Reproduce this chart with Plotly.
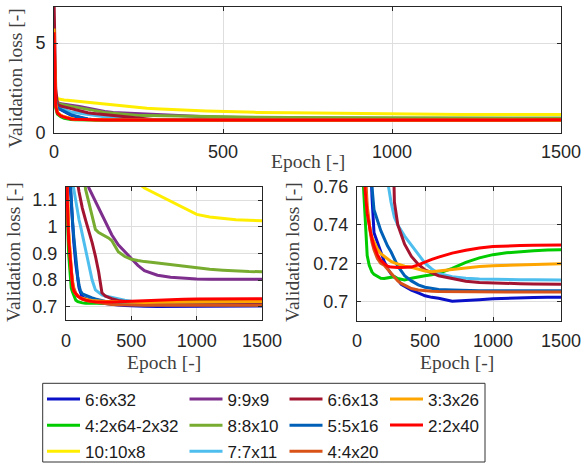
import plotly.graph_objects as go

# ---------------- data ----------------
epochs = [0, 5, 10, 20, 30, 40, 50, 60, 75, 90, 100, 110, 125, 150, 175, 200, 225, 250,
          275, 300, 325, 350, 400, 450, 500, 550, 600, 700, 800, 900, 1000, 1100, 1200,
          1300, 1400, 1500]

loss_6_6x32 = [4.5, 1.8, 1.4, 1.3, 1.17, 1.08, 1.0, 0.94, 0.86, 0.80, 0.77, 0.755, 0.736, 0.731,
               0.7255, 0.721, 0.7172, 0.7145, 0.7128, 0.7115, 0.709, 0.708, 0.706, 0.7045, 0.703,
               0.7022, 0.7017, 0.7002, 0.7005, 0.701, 0.7015, 0.7018, 0.702, 0.7021, 0.7022, 0.7022]
loss_4_2x64_2x32 = [4.0, 1.4, 1.05, 0.9, 0.82, 0.77, 0.755, 0.74, 0.724, 0.719, 0.717, 0.7155, 0.7142,
                    0.713, 0.7122, 0.7121, 0.7125, 0.713, 0.713, 0.712, 0.7115, 0.7113, 0.7122, 0.713,
                    0.7135, 0.714, 0.7148, 0.7173, 0.7205, 0.7228, 0.7245, 0.7255, 0.7262, 0.7266,
                    0.7269, 0.727]
loss_10_10x8 = [4.0, 2.2, 1.9, 1.85, 1.83, 1.82, 1.80, 1.79, 1.78, 1.75, 1.72, 1.69, 1.65, 1.60, 1.55,
                1.50, 1.46, 1.42, 1.38, 1.35, 1.32, 1.30, 1.26, 1.22, 1.19, 1.165, 1.145, 1.12, 1.098,
                1.07, 1.046, 1.036, 1.03, 1.026, 1.024, 1.022]
loss_9_9x9 = [3.5, 2.0, 1.7, 1.62, 1.60, 1.58, 1.55, 1.52, 1.48, 1.42, 1.38, 1.34, 1.28, 1.20, 1.145,
              1.12, 1.095, 1.07, 1.045, 1.02, 0.995, 0.97, 0.932, 0.905, 0.88, 0.855, 0.835, 0.818,
              0.81, 0.806, 0.804, 0.803, 0.803, 0.8025, 0.8025, 0.8025]
loss_8_8x10 = [3.8, 2.0, 1.65, 1.58, 1.55, 1.52, 1.49, 1.46, 1.42, 1.37, 1.33, 1.29, 1.23, 1.14, 1.09,
               1.04, 0.99, 0.978, 0.972, 0.965, 0.958, 0.948, 0.906, 0.888, 0.878, 0.873, 0.869,
               0.864, 0.858, 0.851, 0.845, 0.840, 0.837, 0.834, 0.832, 0.831]
loss_7_7x11 = [4.0, 2.0, 1.5, 1.4, 1.3, 1.23, 1.17, 1.14, 1.09, 1.05, 1.025, 1.005, 0.97, 0.905, 0.855,
               0.80, 0.763, 0.752, 0.744, 0.740, 0.737, 0.7342, 0.7295, 0.7245, 0.720, 0.717, 0.7147,
               0.713, 0.7122, 0.7118, 0.7116, 0.7115, 0.7114, 0.7114, 0.7113, 0.7113]
loss_6_6x13 = [7.5, 2.5, 1.6, 1.5, 1.45, 1.40, 1.35, 1.30, 1.23, 1.16, 1.13, 1.10, 1.07, 1.025, 0.985,
               0.94, 0.89, 0.83, 0.752, 0.740, 0.735, 0.730, 0.7236, 0.7195, 0.7165, 0.7148, 0.7135,
               0.712, 0.7106, 0.710, 0.7097, 0.7095, 0.7093, 0.7092, 0.7091, 0.709]
loss_5_5x16 = [4.2, 1.8, 1.4, 1.3, 1.2, 1.1, 1.02, 0.96, 0.88, 0.81, 0.78, 0.76, 0.748, 0.742, 0.737,
               0.733, 0.729, 0.726, 0.722, 0.7185, 0.716, 0.7135, 0.7108, 0.7087, 0.7075, 0.7067,
               0.7063, 0.706, 0.7057, 0.7057, 0.7056, 0.7056, 0.7056, 0.7056, 0.7056, 0.7056]
loss_4_4x20 = [4.5, 1.6, 1.15, 0.98, 0.9, 0.84, 0.795, 0.77, 0.75, 0.74, 0.735, 0.731, 0.727, 0.7225,
               0.720, 0.719, 0.717, 0.7148, 0.7125, 0.7108, 0.7095, 0.7085, 0.7068, 0.706, 0.7056,
               0.7054, 0.7052, 0.7051, 0.705, 0.705, 0.705, 0.705, 0.705, 0.705, 0.705, 0.705]
loss_3_3x26 = [5.8, 1.6, 1.15, 0.98, 0.9, 0.84, 0.79, 0.76, 0.748, 0.74, 0.736, 0.7335, 0.731, 0.7275,
               0.725, 0.7235, 0.722, 0.721, 0.7202, 0.7195, 0.719, 0.7185, 0.7179, 0.717, 0.716,
               0.7156, 0.716, 0.7168, 0.7176, 0.7183, 0.7187, 0.719, 0.7192, 0.7194, 0.7196, 0.7198]
loss_2_2x40 = [5.6, 1.5, 1.1, 0.95, 0.88, 0.82, 0.78, 0.758, 0.746, 0.739, 0.736, 0.733, 0.729, 0.7245,
               0.7215, 0.7198, 0.7185, 0.718, 0.7178, 0.7178, 0.7178, 0.7178, 0.718, 0.7192, 0.7208,
               0.722, 0.7232, 0.7253, 0.7268, 0.728, 0.7287, 0.7291, 0.7293, 0.7294, 0.7295, 0.7295]

names = ["6:6x32", "4:2x64-2x32", "10:10x8", "9:9x9", "8:8x10", "7:7x11",
         "6:6x13", "5:5x16", "4:4x20", "3:3x26", "2:2x40"]
series = [loss_6_6x32, loss_4_2x64_2x32, loss_10_10x8, loss_9_9x9, loss_8_8x10, loss_7_7x11,
          loss_6_6x13, loss_5_5x16, loss_4_4x20, loss_3_3x26, loss_2_2x40]
colors = ["#0A10C8", "#00CC00", "#FFEE00", "#7E2F8E", "#77AC30", "#4DBEEE",
          "#A2142F", "#0060B8", "#D95319", "#FFA500", "#FF0000"]
legend_column = ["legend", "legend", "legend", "legend2", "legend2", "legend2",
                 "legend3", "legend3", "legend3", "legend4", "legend4"]

x_ticks = [0, 500, 1000, 1500]
y_ticks_top = [0, 5]
y_ticks_left = [0.7, 0.8, 0.9, 1, 1.1]
y_ticks_right = [0.7, 0.72, 0.74, 0.76]

# ---------------- figure ----------------
W, H = 585, 466
def fx(p):
    return p / W
def fy(p):
    return 1 - p / H

fig = go.Figure()
for xa, ya in [("x", "y"), ("x2", "y2"), ("x3", "y3")]:
    for name, vals, col, leg in zip(names, series, colors, legend_column):
        fig.add_trace(go.Scatter(
            x=epochs, y=vals, mode="lines", name=name,
            line=dict(color=col, width=3),
            xaxis=xa, yaxis=ya,
            showlegend=(xa == "x"), legend=leg, legendgroup=name,
            hoverinfo="skip"))

AX = "#262626"
GRID = "#dedede"
common = dict(showline=True, linecolor=AX, linewidth=1, mirror="allticks", automargin=False,
              ticks="inside", ticklen=4, tickcolor=AX, showgrid=True, gridcolor=GRID,
              gridwidth=1, zeroline=False, tickfont=dict(family="Liberation Sans", size=18, color=AX))

fig.update_layout(
    width=W, height=H, margin=dict(l=0, r=0, t=0, b=0, autoexpand=False),
    paper_bgcolor="white", plot_bgcolor="white",
    font=dict(family="Liberation Sans", size=17, color=AX),
    xaxis=dict(domain=[fx(54), fx(561)], anchor="y", range=[0, 1500], tickvals=x_ticks,
               ticklabelstandoff=2, **common),
    yaxis=dict(domain=[fy(133), fy(7)], anchor="x", range=[0, 7], tickvals=y_ticks_top,
               ticklabelstandoff=4, **common),
    xaxis2=dict(domain=[fx(66), fx(262)], anchor="y2", range=[0, 1500], tickvals=x_ticks,
                ticklabelstandoff=4, **common),
    yaxis2=dict(domain=[fy(320), fy(186.7)], anchor="x2", range=[0.65, 1.15],
                tickvals=y_ticks_left, ticklabelstandoff=4, **common),
    xaxis3=dict(domain=[fx(357), fx(561)], anchor="y3", range=[0, 1500], tickvals=x_ticks,
                ticklabelstandoff=4, **common),
    yaxis3=dict(domain=[fy(320.7), fy(186.7)], anchor="x3", range=[0.69, 0.76],
                tickvals=y_ticks_right, ticklabelstandoff=4, **common),
    showlegend=True,
)

leg_common = dict(orientation="v", xanchor="left", yanchor="bottom", bgcolor="rgba(0,0,0,0)",
                  borderwidth=0, font=dict(family="Liberation Sans", size=17, color="#1a1a1a"),
                  itemwidth=33, tracegroupgap=1, traceorder="grouped", itemclick=False)
leg_bottom = 469.5
fig.update_layout(
    legend=dict(x=fx(42), y=fy(leg_bottom), **leg_common),
    legend2=dict(x=fx(184.5), y=fy(leg_bottom), **leg_common),
    legend3=dict(x=fx(284.5), y=fy(leg_bottom), **leg_common),
    legend4=dict(x=fx(385), y=fy(leg_bottom - 26.1), **leg_common),
)

# legend frame
fig.add_shape(type="rect", xref="paper", yref="paper",
              x0=fx(42.7), x1=fx(485), y0=fy(462), y1=fy(383.3),
              line=dict(color="#333333", width=1), fillcolor="rgba(0,0,0,0)")

title_font = dict(family="Liberation Serif", size=19.5, color="#404040")
titles = [
    ("Epoch [-]", 307.5, 161, 0),
    ("Epoch [-]", 164, 362, 0),
    ("Epoch [-]", 457, 362, 0),
    ("Validation loss [-]", 15, 78, -90),
    ("Validation loss [-]", 13, 252, -90),
    ("Validation loss [-]", 292, 252, -90),
]
for text, x, y, ang in titles:
    fig.add_annotation(text=text, xref="paper", yref="paper", x=fx(x), y=fy(y),
                       xanchor="center", yanchor="middle", showarrow=False,
                       textangle=ang, font=title_font)

fig.write_html("out.html")
